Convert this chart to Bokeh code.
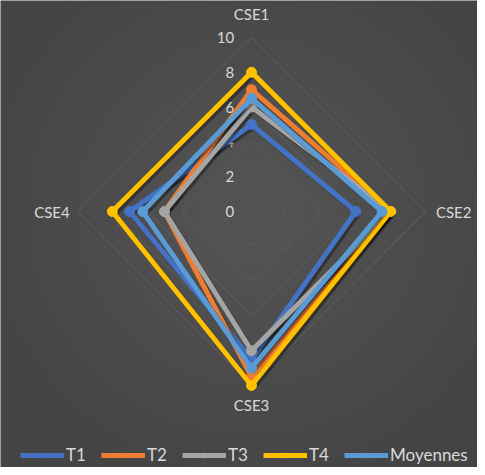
import numpy as np
from bokeh.plotting import figure
from bokeh.models import Legend, LegendItem
from bokeh.embed import file_html
from bokeh.resources import INLINE
from bokeh.core.properties import value

categories = ["CSE1", "CSE2", "CSE3", "CSE4"]
series_names = ["T1", "T2", "T3", "T4", "Moyennes"]
t1 = [5, 6, 8.5, 7]
t2 = [7, 8, 9.5, 5]
t3 = [6, 8, 8, 5]
t4 = [8, 8, 10, 8]
moyennes = [6.5, 7.5, 9, 6.25]
ticks = [0, 2, 4, 6, 8, 10]
tick_labels = ["0", "2", "4", "6", "8", "10"]

colors = ["#4472C4", "#ED7D31", "#A5A5A5", "#FFC000", "#5B9BD5"]
series = [t1, t2, t3, t4, moyennes]

W, H = 477, 467
cx, cy = 251, 211
ppu = 17.4
BG = "#444444"
TXT = "#D9D9D9"
FONT = "Lato"

p = figure(width=W, height=H,
           x_range=(-cx / ppu, (W - cx) / ppu),
           y_range=(-(H - cy) / ppu, cy / ppu),
           output_backend="svg", toolbar_location=None,
           x_axis_type=None, y_axis_type=None, min_border=0,
           background_fill_color=BG, border_fill_color=BG,
           outline_line_color=None)

n = len(categories)
theta = np.pi / 2 - np.arange(n) * 2 * np.pi / n
cos_t, sin_t = np.cos(theta), np.sin(theta)

# soft radial lightening of the background
for k in range(14):
    r = 16 - k * 1.0
    p.circle(x=[0], y=[0], radius=r, fill_color="white", fill_alpha=0.008,
             line_color=None)

# grid diamonds
for lv in ticks[1:]:
    xs = list(lv * cos_t) + [lv * cos_t[0]]
    ys = list(lv * sin_t) + [lv * sin_t[0]]
    p.line(xs, ys, line_color="#5E5E5E", line_width=1)

# tick labels
p.text(x=[-1.0] * len(ticks), y=ticks, text=tick_labels,
       text_align="right", text_baseline="middle",
       text_color=TXT, text_font=value(FONT), text_font_size="15px")

# category labels
lab_r = [11.35, 10.6, 11.1, 10.45]
aligns = ["center", "left", "center", "right"]
for i, c in enumerate(categories):
    p.text(x=[lab_r[i] * cos_t[i]], y=[lab_r[i] * sin_t[i]], text=[c],
           text_align=aligns[i], text_baseline="middle",
           text_color=TXT, text_font=value(FONT), text_font_size="15px")

items = []
for name, vals, col in zip(series_names, series, colors):
    v = np.array(vals, dtype=float)
    xs = list(v * cos_t) + [v[0] * cos_t[0]]
    ys = list(v * sin_t) + [v[0] * sin_t[0]]
    # shadow
    p.line([x + 0.12 for x in xs], [y - 0.14 for y in ys], line_color="black",
           line_alpha=0.35, line_width=5, line_join="round")
    lr = p.line(xs, ys, line_color=col, line_width=5, line_join="round")
    sr = p.scatter(list(v * cos_t), list(v * sin_t), size=10, marker="circle",
                   fill_color=col, line_color=col)
    items.append(LegendItem(label=name, renderers=[lr, sr]))

legend = Legend(items=items, orientation="horizontal", location=(20, 2),
                background_fill_alpha=0, border_line_color=None,
                label_text_color=TXT, label_text_font=FONT,
                label_text_font_size="17px", glyph_width=44, glyph_height=12,
                label_standoff=2, spacing=15, padding=0, margin=0)
p.add_layout(legend, "center")

open("out.html", "w").write(file_html(p, INLINE))
